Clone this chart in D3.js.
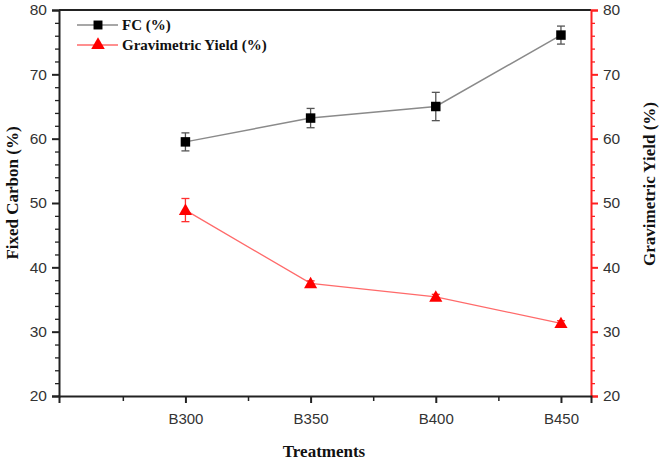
<!DOCTYPE html>
<html>
<head>
<meta charset="utf-8">
<script src="https://cdn.jsdelivr.net/npm/d3@7"></script>
<style>
  body { margin: 0; background: #fff; }
  .tick text { font-family: Arial, "Liberation Sans", sans-serif; }
</style>
</head>
<body>
<div id="wrapper"></div>
<script>
const treatments = ["B300", "B350", "B400", "B450"];
const fcValues = [59.5, 63.2, 65.0, 76.1];
const fcErrors = [1.4, 1.5, 2.2, 1.4];
const yieldValues = [48.9, 37.5, 35.4, 31.3];
const yieldErrors = [1.8, 0.4, 0.4, 0.4];
const yTicks = [20, 30, 40, 50, 60, 70, 80];

let dimensions = {
    width: 661,
    height: 460,
    margin: { top: 10, right: 70, bottom: 64, left: 59 },
};
dimensions.boundedWidth = dimensions.width - dimensions.margin.left - dimensions.margin.right;
dimensions.boundedHeight = dimensions.height - dimensions.margin.top - dimensions.margin.bottom;

const wrapper = d3.select("#wrapper")
    .append("svg")
    .attr("width", dimensions.width)
    .attr("height", dimensions.height);

const bounds = wrapper.append("g")
    .attr("transform", `translate(${dimensions.margin.left},${dimensions.margin.top})`);

// x: category index, a full step of padding at left and a quarter at right
const xScale = d3.scaleLinear()
    .domain([-1.01, 3.24])
    .range([0, dimensions.boundedWidth]);

const yScale = d3.scaleLinear()
    .domain([20, 80])
    .range([dimensions.boundedHeight, 0]);

const yScaleRight = d3.scaleLinear()
    .domain([20, 80])
    .range([dimensions.boundedHeight, 0]);

// minor ticks
const minorY = d3.range(20, 81, 2).filter(v => v % 10 !== 0);

bounds.append("g")
    .call(d3.axisLeft(yScale).tickValues(minorY).tickSize(4).tickFormat(""))
    .call(g => g.select(".domain").remove())
    .selectAll("line").attr("stroke", "#222").attr("stroke-width", 1.3);

bounds.append("g")
    .attr("transform", `translate(${dimensions.boundedWidth},0)`)
    .call(d3.axisRight(yScaleRight).tickValues(minorY).tickSize(4).tickFormat(""))
    .call(g => g.select(".domain").remove())
    .selectAll("line").attr("stroke", "#ff2020").attr("stroke-width", 1.3);

// top frame
bounds.append("line")
    .attr("x1", 0).attr("x2", dimensions.boundedWidth)
    .attr("y1", 0).attr("y2", 0)
    .attr("stroke", "#222").attr("stroke-width", 2);

// left axis
const yAxis = bounds.append("g")
    .call(d3.axisLeft(yScale).tickValues(yTicks).tickSize(7).tickPadding(5));
yAxis.select(".domain").attr("stroke", "#222").attr("stroke-width", 2);
yAxis.selectAll(".tick line").attr("stroke", "#222").attr("stroke-width", 2);
yAxis.selectAll(".tick text").attr("font-size", 15.5).attr("fill", "#333");

// right axis
const yAxisRight = bounds.append("g")
    .attr("transform", `translate(${dimensions.boundedWidth},0)`)
    .call(d3.axisRight(yScaleRight).tickValues(yTicks).tickSize(7).tickPadding(5));
yAxisRight.select(".domain").attr("stroke", "#ff2020").attr("stroke-width", 2);
yAxisRight.selectAll(".tick line").attr("stroke", "#ff2020").attr("stroke-width", 2);
yAxisRight.selectAll(".tick text").attr("font-size", 15.5).attr("fill", "#333");

// bottom axis
const xAxis = bounds.append("g")
    .attr("transform", `translate(0,${dimensions.boundedHeight})`)
    .call(d3.axisBottom(xScale)
        .tickValues(d3.range(treatments.length))
        .tickFormat(i => treatments[i])
        .tickSize(7).tickPadding(10));
xAxis.select(".domain").attr("stroke", "#222").attr("stroke-width", 2);
xAxis.selectAll(".tick line").attr("stroke", "#222").attr("stroke-width", 2);
xAxis.selectAll(".tick text").attr("font-size", 15).attr("fill", "#333");

bounds.append("g")
    .attr("transform", `translate(0,${dimensions.boundedHeight})`)
    .call(d3.axisBottom(xScale).tickValues([-0.5, 0.5, 1.5, 2.5]).tickSize(5).tickFormat(""))
    .call(g => g.select(".domain").remove())
    .selectAll("line").attr("stroke", "#222").attr("stroke-width", 1.5);

// FC series
const fcData = treatments.map((t, i) => ({ i, v: fcValues[i], e: fcErrors[i] }));
const yieldData = treatments.map((t, i) => ({ i, v: yieldValues[i], e: yieldErrors[i] }));

bounds.append("path")
    .datum(fcData)
    .attr("d", d3.line().x(d => xScale(d.i)).y(d => yScale(d.v)))
    .attr("fill", "none")
    .attr("stroke", "#8a8a8a")
    .attr("stroke-width", 1.5);

const fcErr = bounds.append("g").selectAll("g")
    .data(fcData).join("g")
    .attr("stroke", "#555").attr("stroke-width", 1.3);
fcErr.append("line")
    .attr("x1", d => xScale(d.i)).attr("x2", d => xScale(d.i))
    .attr("y1", d => yScale(d.v + d.e)).attr("y2", d => yScale(d.v - d.e));
fcErr.append("line")
    .attr("x1", d => xScale(d.i) - 4).attr("x2", d => xScale(d.i) + 4)
    .attr("y1", d => yScale(d.v + d.e)).attr("y2", d => yScale(d.v + d.e));
fcErr.append("line")
    .attr("x1", d => xScale(d.i) - 4).attr("x2", d => xScale(d.i) + 4)
    .attr("y1", d => yScale(d.v - d.e)).attr("y2", d => yScale(d.v - d.e));

bounds.append("g").selectAll("path")
    .data(fcData).join("path")
    .attr("transform", d => `translate(${xScale(d.i)},${yScale(d.v)})`)
    .attr("d", d3.symbol(d3.symbolSquare, 90))
    .attr("fill", "#000");

// Gravimetric yield series
bounds.append("path")
    .datum(yieldData)
    .attr("d", d3.line().x(d => xScale(d.i)).y(d => yScaleRight(d.v)))
    .attr("fill", "none")
    .attr("stroke", "#ff6a6a")
    .attr("stroke-width", 1.3);

const yErr = bounds.append("g").selectAll("g")
    .data(yieldData).join("g")
    .attr("stroke", "#ff3030").attr("stroke-width", 1.3);
yErr.append("line")
    .attr("x1", d => xScale(d.i)).attr("x2", d => xScale(d.i))
    .attr("y1", d => yScaleRight(d.v + d.e)).attr("y2", d => yScaleRight(d.v - d.e));
yErr.append("line")
    .attr("x1", d => xScale(d.i) - 4).attr("x2", d => xScale(d.i) + 4)
    .attr("y1", d => yScaleRight(d.v + d.e)).attr("y2", d => yScaleRight(d.v + d.e));
yErr.append("line")
    .attr("x1", d => xScale(d.i) - 4).attr("x2", d => xScale(d.i) + 4)
    .attr("y1", d => yScaleRight(d.v - d.e)).attr("y2", d => yScaleRight(d.v - d.e));

bounds.append("g").selectAll("path")
    .data(yieldData).join("path")
    .attr("transform", d => `translate(${xScale(d.i)},${yScaleRight(d.v) + 1})`)
    .attr("d", d3.symbol(d3.symbolTriangle, 75))
    .attr("fill", "#ff0000");

// legend
const legend = wrapper.append("g");
const legendItems = [
    { label: "FC (%)", line: "#8a8a8a", fill: "#000", symbol: d3.symbolSquare, size: 80, y: 25 },
    { label: "Gravimetric Yield (%)", line: "#ff6a6a", fill: "#ff0000", symbol: d3.symbolTriangle, size: 80, y: 45 },
];
legendItems.forEach(item => {
    legend.append("line")
        .attr("x1", 77).attr("x2", 118)
        .attr("y1", item.y).attr("y2", item.y)
        .attr("stroke", item.line).attr("stroke-width", 1.5);
    legend.append("path")
        .attr("transform", `translate(98,${item.y})`)
        .attr("d", d3.symbol(item.symbol, item.size))
        .attr("fill", item.fill);
    legend.append("text")
        .attr("x", 122).attr("y", item.y + 5)
        .attr("font-family", "'Liberation Serif', 'Times New Roman', serif")
        .attr("font-weight", "bold")
        .attr("font-size", 15)
        .attr("fill", "#111")
        .text(item.label);
});

// axis titles
wrapper.append("text")
    .attr("transform", `translate(18,193) rotate(-90)`)
    .attr("text-anchor", "middle")
    .attr("font-family", "'Liberation Serif', 'Times New Roman', serif")
    .attr("font-weight", "bold")
    .attr("font-size", 17)
    .attr("fill", "#111")
    .text("Fixed Carbon  (%)");

wrapper.append("text")
    .attr("transform", `translate(655,184) rotate(-90)`)
    .attr("text-anchor", "middle")
    .attr("font-family", "'Liberation Serif', 'Times New Roman', serif")
    .attr("font-weight", "bold")
    .attr("font-size", 17)
    .attr("fill", "#111")
    .text("Gravimetric Yield (%)");

wrapper.append("text")
    .attr("x", 324).attr("y", 457)
    .attr("text-anchor", "middle")
    .attr("font-family", "'Liberation Serif', 'Times New Roman', serif")
    .attr("font-weight", "bold")
    .attr("font-size", 17)
    .attr("fill", "#111")
    .text("Treatments");
</script>
</body>
</html>
